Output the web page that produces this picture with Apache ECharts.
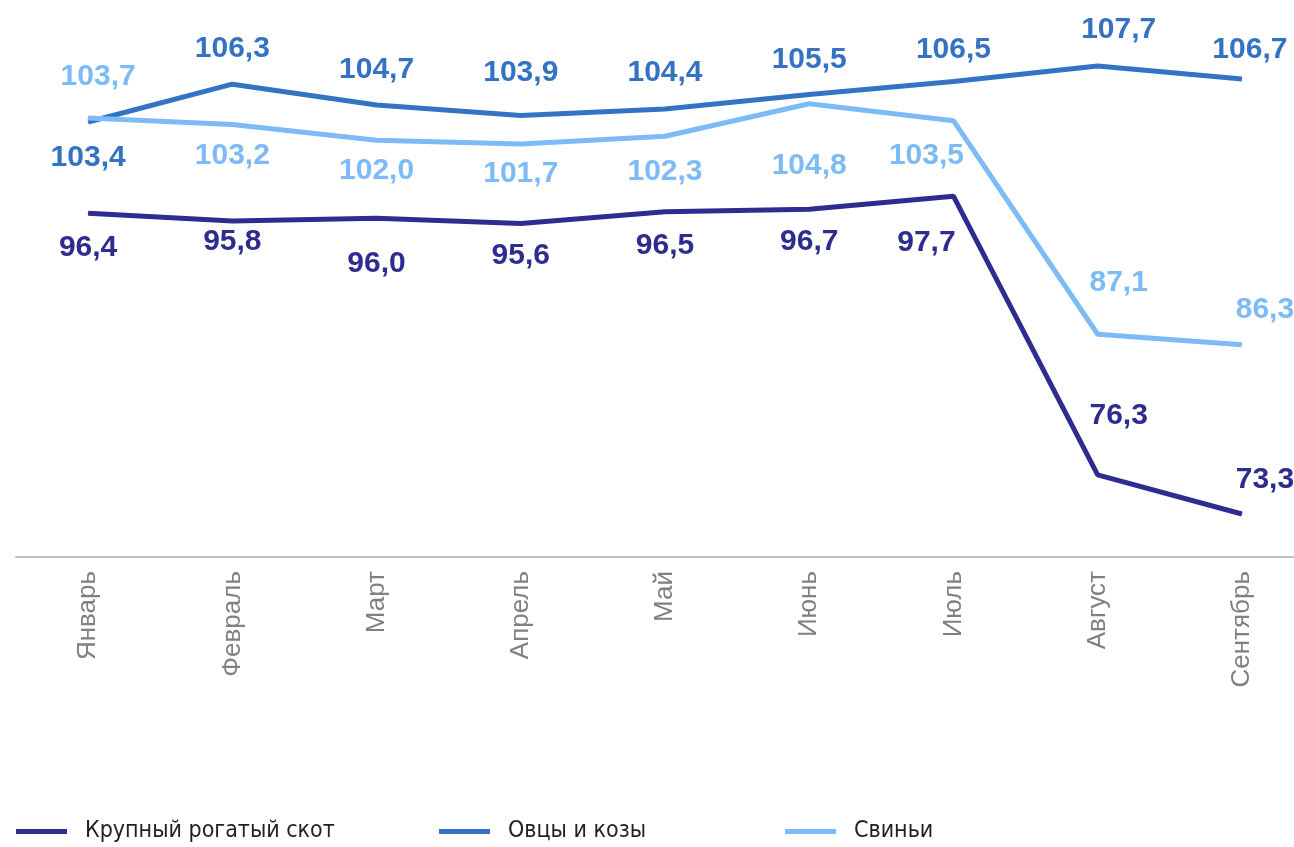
<!DOCTYPE html>
<html><head><meta charset="utf-8">
<script src="https://cdn.jsdelivr.net/npm/echarts@6/dist/echarts.min.js"></script>
<style>html,body{margin:0;padding:0;background:#fff;overflow:hidden}#c{width:1314px;height:847px}</style>
</head><body><div id="c"></div>
<script>
var categories = ['Январь','Февраль','Март','Апрель','Май','Июнь','Июль','Август','Сентябрь'];
var seriesNames = ['Крупный рогатый скот','Овцы и козы','Свиньи'];
var cattle = [96.4, 95.8, 96.0, 95.6, 96.5, 96.7, 97.7, 76.3, 73.3];
var sheepGoats = [103.4, 106.3, 104.7, 103.9, 104.4, 105.5, 106.5, 107.7, 106.7];
var pigs = [103.7, 103.2, 102.0, 101.7, 102.3, 104.8, 103.5, 87.1, 86.3];

// label placement (style only)
var cattleOffsets = [[0,35],[0,21],[0,45],[0,32],[0,34],[0,33],[-27,47],[21,-59],[23,-34]];
var sheepOffsets = [[0,36],[0,-35],[0,-35],[0,-43],[0,-36],[0,-35],[0,-32],[21,-36],[8,-29]];
var pigOffsets = [[10,-41],[0,31],[0,31],[0,30],[0,35],[0,62],[-27,35],[21,-52],[23,-35]];

var colors = ['#2E2C8E', '#3473C3', '#7DBBF7'];

function fmt(v){ return v.toFixed(1).replace('.', ','); }
function mk(vals, offs){
  return vals.map(function(v,i){
    return {value:v, label:{offset:offs[i]}};
  });
}
function series(name, vals, offs, color){
  return {
    name:name, type:'line', data:mk(vals, offs),
    symbol:'circle', symbolSize:1, showSymbol:true,
    lineStyle:{color:color, width:5}, itemStyle:{color:color},
    label:{show:true, position:'inside', color:color, fontSize:30, fontWeight:'bold',
      fontFamily:'Liberation Sans, Arial, sans-serif',
      formatter:function(p){return fmt(p.value);}},
    emphasis:{disabled:true}, animation:false, z:10
  };
}
var legendBase = {
  top: 820, icon:'rect', itemWidth:51, itemHeight:5, padding:0,
  textStyle:{fontSize:23, color:'#222', padding:[0,0,0,13],
    fontFamily:'Liberation Sans Narrow, DejaVu Sans Condensed, Arial Narrow, sans-serif'},
  selectedMode:false
};
var chart = echarts.init(document.getElementById('c'));
chart.setOption({
  animation:false,
  color: colors,
  grid:{left:16, right:0, top:36, bottom:290, containLabel:false},
  legend:[
    Object.assign({}, legendBase, {left:16, data:[seriesNames[0]]}),
    Object.assign({}, legendBase, {left:439, data:[seriesNames[1]]}),
    Object.assign({}, legendBase, {left:785, data:[seriesNames[2]]})
  ],
  xAxis:{type:'category', data:categories, boundaryGap:true,
    axisLine:{lineStyle:{color:'#BFBFBF', width:2}},
    axisTick:{show:false},
    axisLabel:{rotate:90, margin:14, fontSize:26, color:'#808080', fontFamily:'Liberation Sans, Arial, sans-serif'}},
  yAxis:{type:'value', min:70, max:110, show:false, splitLine:{show:false}},
  series:[
    series(seriesNames[0], cattle, cattleOffsets, colors[0]),
    series(seriesNames[1], sheepGoats, sheepOffsets, colors[1]),
    series(seriesNames[2], pigs, pigOffsets, colors[2])
  ]
});
</script></body></html>
